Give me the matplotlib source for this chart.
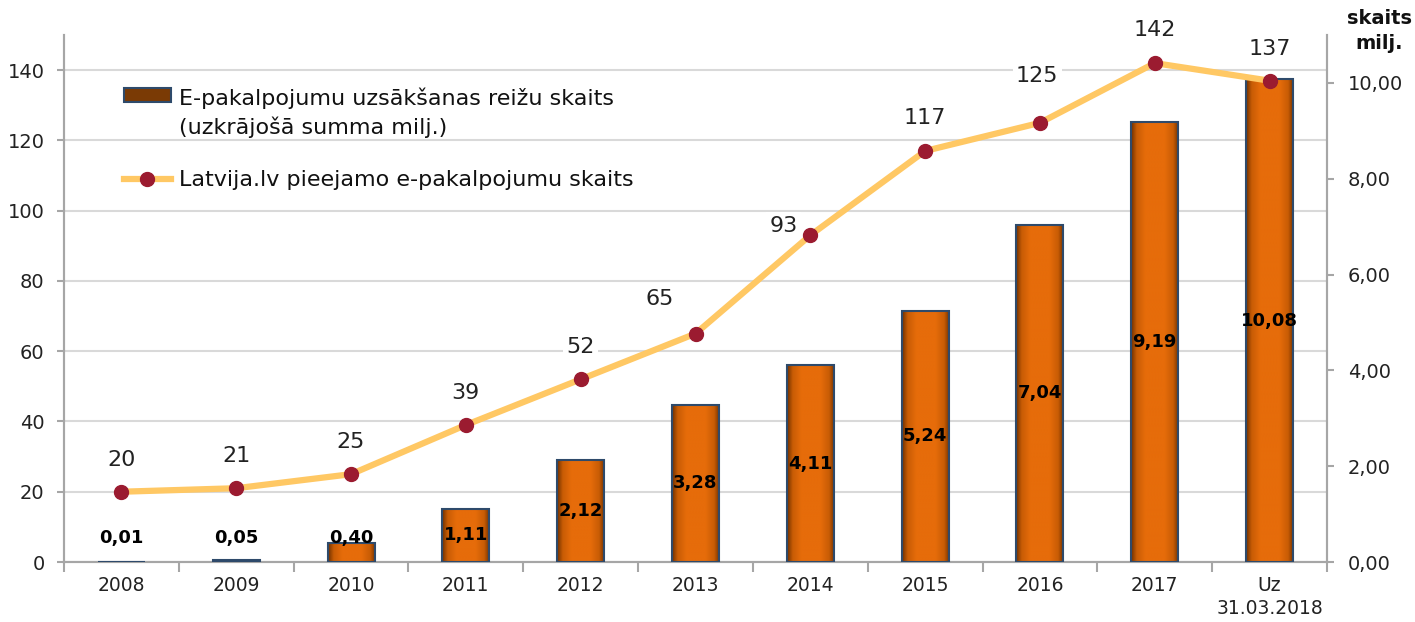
import matplotlib
matplotlib.use("Agg")
import matplotlib.pyplot as plt
from matplotlib.lines import Line2D
from matplotlib.patches import Patch, Rectangle
from matplotlib.legend_handler import HandlerPatch
from matplotlib.colors import LinearSegmentedColormap
import numpy as np

categories = ["2008", "2009", "2010", "2011", "2012", "2013", "2014", "2015", "2016", "2017", "Uz\n31.03.2018"]
launches_mln = [0.01, 0.05, 0.40, 1.11, 2.12, 3.28, 4.11, 5.24, 7.04, 9.19, 10.08]
services_count = [20, 21, 25, 39, 52, 65, 93, 117, 125, 142, 137]

bar_label = "E-pakalpojumu uzsākšanas reižu skaits\n(uzkrājošā summa milj.)"
line_label = "Latvija.lv pieejamo e-pakalpojumu skaits"
right_title = "skaits\nmilj."

# label offsets (points) for the line value labels
line_label_offsets = [(0, 23), (0, 23), (0, 23), (0, 23), (0, 23), (-26, 25), (-19, 7), (0, 24), (-2, 34), (0, 24), (0, 23)]

plt.rcParams['font.family'] = ['DejaVu Sans']

fig = plt.figure(figsize=(14.15, 6.22), dpi=100)
rect = [64/1415, 60/622, (1327-64)/1415, (562-35)/622]
ax = fig.add_axes(rect)          # left scale: grid + ticks
ax2 = ax.twinx()                 # right scale: bars
ax3 = ax.twinx()                 # left scale: line on top

x = np.arange(len(categories))
xlim = (-0.5, len(categories) - 0.5)

ax.set_ylim(0, 150)
ax3.set_ylim(0, 150)
ax.set_xlim(*xlim)

ax.set_yticks(range(0, 141, 20))
ax.yaxis.grid(True, color="#d9d9d9", linewidth=1.5)
ax.set_axisbelow(True)

ax2.set_zorder(ax.get_zorder() + 1)
ax3.set_zorder(ax.get_zorder() + 2)
ax2.patch.set_visible(False)
ax3.patch.set_visible(False)

bar_face = "#E36C09"
bar_edge = "#2E4A6B"
bars = ax2.bar(x, launches_mln, width=0.41, color=bar_face, edgecolor=bar_edge, linewidth=1.5, zorder=2)

# horizontal gradient fill inside bars
grad_cmap = LinearSegmentedColormap.from_list(
    "barg", [(0.0, "#6E3000"), (0.12, "#C85C05"), (0.3, "#E66C0A"),
             (0.7, "#E66C0A"), (0.88, "#C85C05"), (1.0, "#6E3000")])
grad = np.linspace(0, 1, 256).reshape(1, -1)
for b in bars:
    bx, by = b.get_x(), b.get_y()
    bw, bh = b.get_width(), b.get_height()
    im = ax2.imshow(grad, cmap=grad_cmap, aspect="auto", extent=[bx, bx + bw, by, by + bh],
                    zorder=2.5, interpolation="bilinear")
    im.set_clip_path(b)
for b in bars:
    b.set_zorder(3)
    b.set_facecolor("none")
ax2.set_xlim(*xlim)
ax2.set_ylim(0, 11)

for xi, v in zip(x, launches_mln):
    ypos = max(v / 2, 0.5)
    ax2.text(xi, ypos, f"{v:.2f}".replace(".", ","), ha="center", va="center",
             fontsize=13, fontweight="bold", color="black", zorder=5)

ax3.plot(x, services_count, color="#FFC864", linewidth=4.5, solid_capstyle="round", zorder=3)
ax3.plot(x, services_count, linestyle="none", marker="o", markersize=10,
         markerfacecolor="#9B1B30", markeredgecolor="#9B1B30", zorder=4)

for xi, v, off in zip(x, services_count, line_label_offsets):
    ax3.annotate(str(v), (xi, v), xytext=off, textcoords="offset points",
                 ha="center", va="center", fontsize=16, color="#222222", zorder=6,
                 bbox=dict(boxstyle="square,pad=0.15", facecolor="white", edgecolor="none"))

# axes styling
for a in (ax, ax2, ax3):
    a.spines["top"].set_visible(False)
    for sp in ("left", "right", "bottom"):
        a.spines[sp].set_color("#A6A6A6")
        a.spines[sp].set_linewidth(1.5)
ax3.set_yticks([])
ax3.spines["left"].set_visible(False)
ax3.spines["right"].set_visible(False)
ax3.spines["bottom"].set_visible(False)

ax.set_xticks(x)
ax.set_xticklabels(categories, fontsize=13.5, color="#222222", linespacing=1.3)
ax.tick_params(axis="x", length=0, pad=10)
ax.set_xticks(np.arange(-0.5, len(categories), 1), minor=True)
ax.tick_params(axis="x", which="minor", length=7, width=1.5, color="#A6A6A6", direction="out")

ax.tick_params(axis="y", labelsize=14, labelcolor="#222222", length=5, width=1.5, color="#A6A6A6", pad=9)
ax2.set_yticks(np.arange(0, 11, 2))
ax2.set_yticklabels([f"{t:.2f}".replace(".", ",") for t in np.arange(0, 11, 2)])
ax2.tick_params(axis="y", labelsize=14, labelcolor="#222222", length=5, width=1.5, color="#A6A6A6", pad=10)

fig.text(1379/1415, 1 - 31/622, right_title, ha="center", va="center", fontsize=14,
         fontweight="bold", color="#111111", linespacing=1.35)


def shifted_patch(legend, orig_handle, xdescent, ydescent, width, height, fontsize):
    # align the bar swatch with the first line of the two-line label
    return Rectangle((-xdescent, -ydescent + 0.8 * fontsize), width, height)


handles = [Patch(facecolor="#7A3A05", edgecolor=bar_edge, linewidth=1.5),
           Line2D([0], [0], color="#FFC864", linewidth=4.5, marker="o", markersize=10,
                  markerfacecolor="#9B1B30", markeredgecolor="#9B1B30")]
leg = ax3.legend(handles, [bar_label, line_label], loc="upper left",
                 bbox_to_anchor=(51/1263, 1 - 44/527), frameon=False, fontsize=16,
                 handlelength=2.1, handleheight=0.6, handletextpad=0.4, labelspacing=1.45,
                 borderaxespad=0,
                 handler_map={Patch: HandlerPatch(patch_func=shifted_patch)})
for t in leg.get_texts():
    t.set_color("#111111")
    t.set_linespacing(1.4)

fig.savefig("out.png", dpi=100)
